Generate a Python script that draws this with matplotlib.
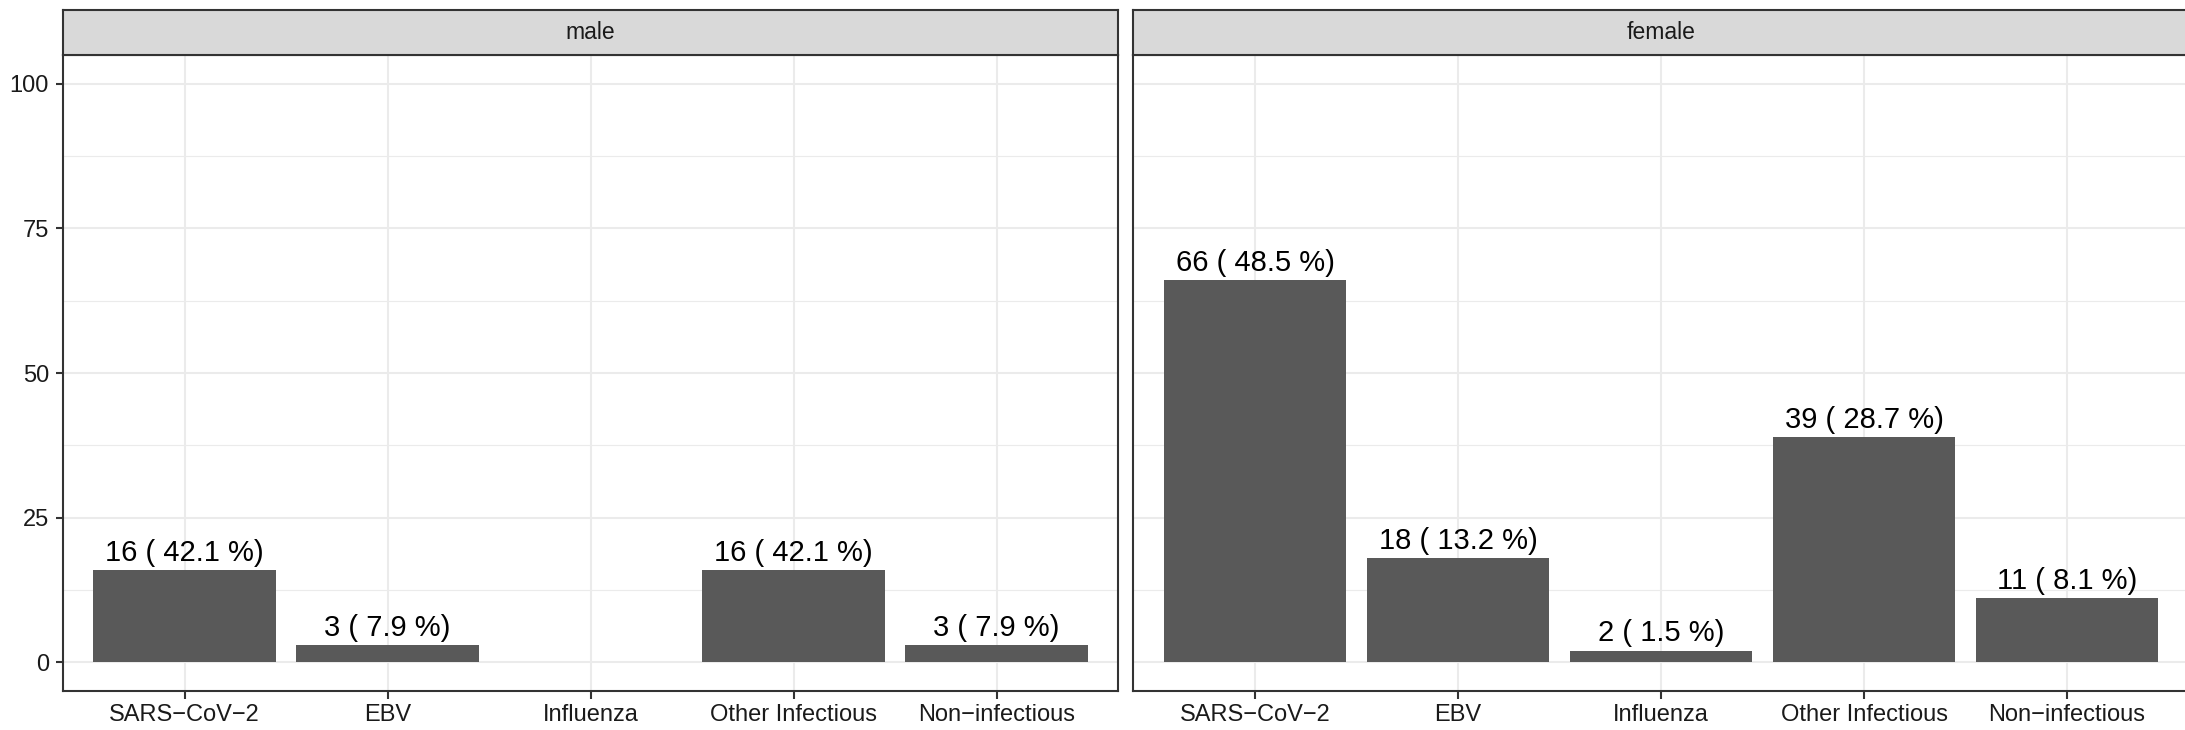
import matplotlib
matplotlib.use("Agg")
import matplotlib.pyplot as plt
from matplotlib.ticker import MultipleLocator

plt.rcParams['font.family'] = ['Liberation Sans', 'DejaVu Sans']

# data
categories = ["SARS\u2212CoV\u22122", "EBV", "Influenza", "Other Infectious", "Non\u2212infectious"]
panels = ["male", "female"]
male_counts = [16, 3, 0, 16, 3]
male_pct = [42.1, 7.9, 0.0, 42.1, 7.9]
female_counts = [66, 18, 2, 39, 11]
female_pct = [48.5, 13.2, 1.5, 28.7, 8.1]

counts = {"male": male_counts, "female": female_counts}
pcts = {"male": male_pct, "female": female_pct}

W, H = 2185, 730
fig = plt.figure(figsize=(W / 100, H / 100), dpi=100)

bar_col = "#595959"
border_col = "#333333"
grid_col = "#EBEBEB"

panel_left = [62.7, 1133.3]
panel_w = 1055.6
panel_top, panel_bot = 55, 691
strip_top = 10

for i, name in enumerate(panels):
    x0 = panel_left[i] / W
    ax = fig.add_axes([x0, (H - panel_bot) / H, panel_w / W, (panel_bot - panel_top) / H])
    xs = list(range(1, len(categories) + 1))
    ax.bar(xs, counts[name], width=0.9, color=bar_col, zorder=3)
    for x, c, p in zip(xs, counts[name], pcts[name]):
        if c > 0:
            ax.annotate(f"{c} ( {p} %)", xy=(x, c), xytext=(0, 6.5), textcoords="offset points",
                        ha="center", va="baseline", fontsize=21, color="black", zorder=4)

    ax.set_xlim(0.4, 5.6)
    ax.set_ylim(-5, 105)
    ax.set_xticks(xs)
    ax.set_xticklabels(categories)
    ax.set_yticks([0, 25, 50, 75, 100])
    ax.yaxis.set_minor_locator(MultipleLocator(12.5))
    ax.grid(True, which="major", color=grid_col, linewidth=1.5, zorder=0)
    ax.grid(True, which="minor", axis="y", color=grid_col, linewidth=0.8, zorder=0)
    ax.set_axisbelow(True)
    ax.tick_params(axis="both", which="major", length=5.4, width=1.5, color=border_col,
                   labelsize=17, labelcolor="#1A1A1A")
    ax.tick_params(axis="x", pad=3.8)
    ax.tick_params(axis="y", pad=4.5)
    ax.tick_params(which="minor", length=0)
    if i == 1:
        ax.tick_params(axis="y", length=0, labelleft=False)
    for s in ax.spines.values():
        s.set_color(border_col)
        s.set_linewidth(1.5)

    # facet strip
    sax = fig.add_axes([x0, (H - panel_top) / H, panel_w / W, (panel_top - strip_top) / H])
    sax.set_facecolor("#D9D9D9")
    sax.set_xticks([])
    sax.set_yticks([])
    for s in sax.spines.values():
        s.set_color(border_col)
        s.set_linewidth(1.5)
    sax.text(0.5, 0.5, name, transform=sax.transAxes, ha="center", va="center",
             fontsize=16.5, color="#1A1A1A")

fig.savefig("out.png", dpi=100)
